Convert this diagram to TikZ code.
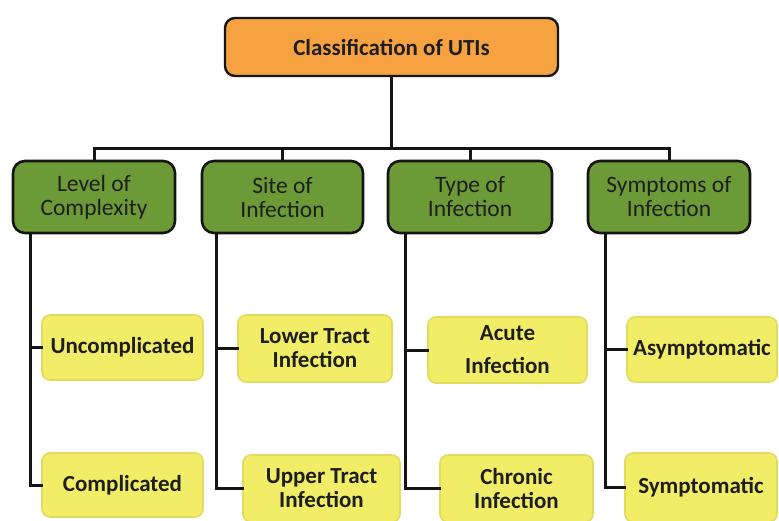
\documentclass[tikz,border=0pt]{standalone}
\usepackage{fontspec}
\setmainfont{Carlito}
\definecolor{orangebox}{HTML}{F7A240}
\definecolor{greenbox}{HTML}{6C9A36}
\definecolor{yellowbox}{HTML}{F1ED66}
\definecolor{yellowedge}{HTML}{E2DB5C}
\definecolor{darkline}{HTML}{151515}
\definecolor{textdark}{HTML}{1E1E1E}
\begin{document}
\begin{tikzpicture}[x=1pt,y=-1pt,
  topbox/.style={draw=darkline, line width=2.4pt, fill=orangebox, rounded corners=10pt,
    minimum width=333pt, minimum height=58pt, inner sep=0pt, text=textdark,
    font=\fontsize{23}{24}\selectfont\bfseries},
  catbox/.style={draw=darkline, line width=2.6pt, fill=greenbox, rounded corners=12pt,
    minimum height=72pt, inner sep=0pt, align=center, text=textdark,
    font=\fontsize{23.5}{24}\selectfont},
  leafbox/.style={draw=yellowedge, line width=1.6pt, fill=yellowbox, rounded corners=8pt,
    inner sep=0pt, align=center, text=textdark,
    font=\fontsize{23}{24}\selectfont\bfseries},
  conn/.style={draw=darkline, line width=3pt, line cap=rect, line join=miter}
]
\useasboundingbox (0,0) rectangle (779,520);
\fill[white] (0,0) rectangle (779,520);

% top
\node[topbox] (top) at (391.5,47) {Classification of UTIs};

% categories
\node[catbox, minimum width=162pt] (g1) at (94,197) {Level of\\Complexity};
\node[catbox, minimum width=161pt] (g2) at (282.5,197) {Site of\\Infection};
\node[catbox, minimum width=164pt] (g3) at (470,197) {Type of\\Infection};
\node[catbox, minimum width=162pt] (g4) at (669,197) {Symptoms of\\Infection};

% leaves
\node[leafbox, minimum width=161pt, minimum height=65pt] (y11) at (122.5,347.5) {Uncomplicated};
\node[leafbox, minimum width=161pt, minimum height=64pt] (y12) at (122.5,485) {Complicated};
\node[leafbox, minimum width=154pt, minimum height=67pt] (y21) at (315,348.5) {Lower Tract\\Infection};
\node[leafbox, minimum width=157pt, minimum height=67pt] (y22) at (321.5,488.5) {Upper Tract\\Infection};
\node[leafbox, minimum width=159pt, minimum height=66pt] (y31) at (507.5,350) {Acute\\[9pt]Infection};
\node[leafbox, minimum width=153pt, minimum height=67pt] (y32) at (516.5,488.5) {Chronic\\Infection};
\node[leafbox, minimum width=150pt, minimum height=65pt] (y41) at (702,349.5) {Asymptomatic};
\node[leafbox, minimum width=152pt, minimum height=69pt] (y42) at (701,487.5) {Symptomatic};

% bus
\coordinate (busy) at (top.south |- 0,148);
\draw[conn] (top.south) -- (busy);
\draw[conn] (busy) -| (g1.north);
\draw[conn] (busy) -| (g2.north);
\draw[conn] (busy) -| (g3.north);
\draw[conn] (busy) -| (g4.north);

% stems
\coordinate (s1) at ([xshift=19pt]g1.south west);
\coordinate (s2) at ([xshift=16pt]g2.south west);
\coordinate (s3) at ([xshift=19pt]g3.south west);
\coordinate (s4) at ([xshift=19pt]g4.south west);
\draw[conn] (s1) |- (y11.west);
\draw[conn] (s1) |- (y12.west);
\draw[conn] (s2) |- (y21.west);
\draw[conn] (s2) |- (y22.west);
\draw[conn] (s3) |- (y31.west);
\draw[conn] (s3) |- (y32.west);
\draw[conn] (s4) |- (y41.west);
\draw[conn] (s4) |- (y42.west);
\end{tikzpicture}
\end{document}
